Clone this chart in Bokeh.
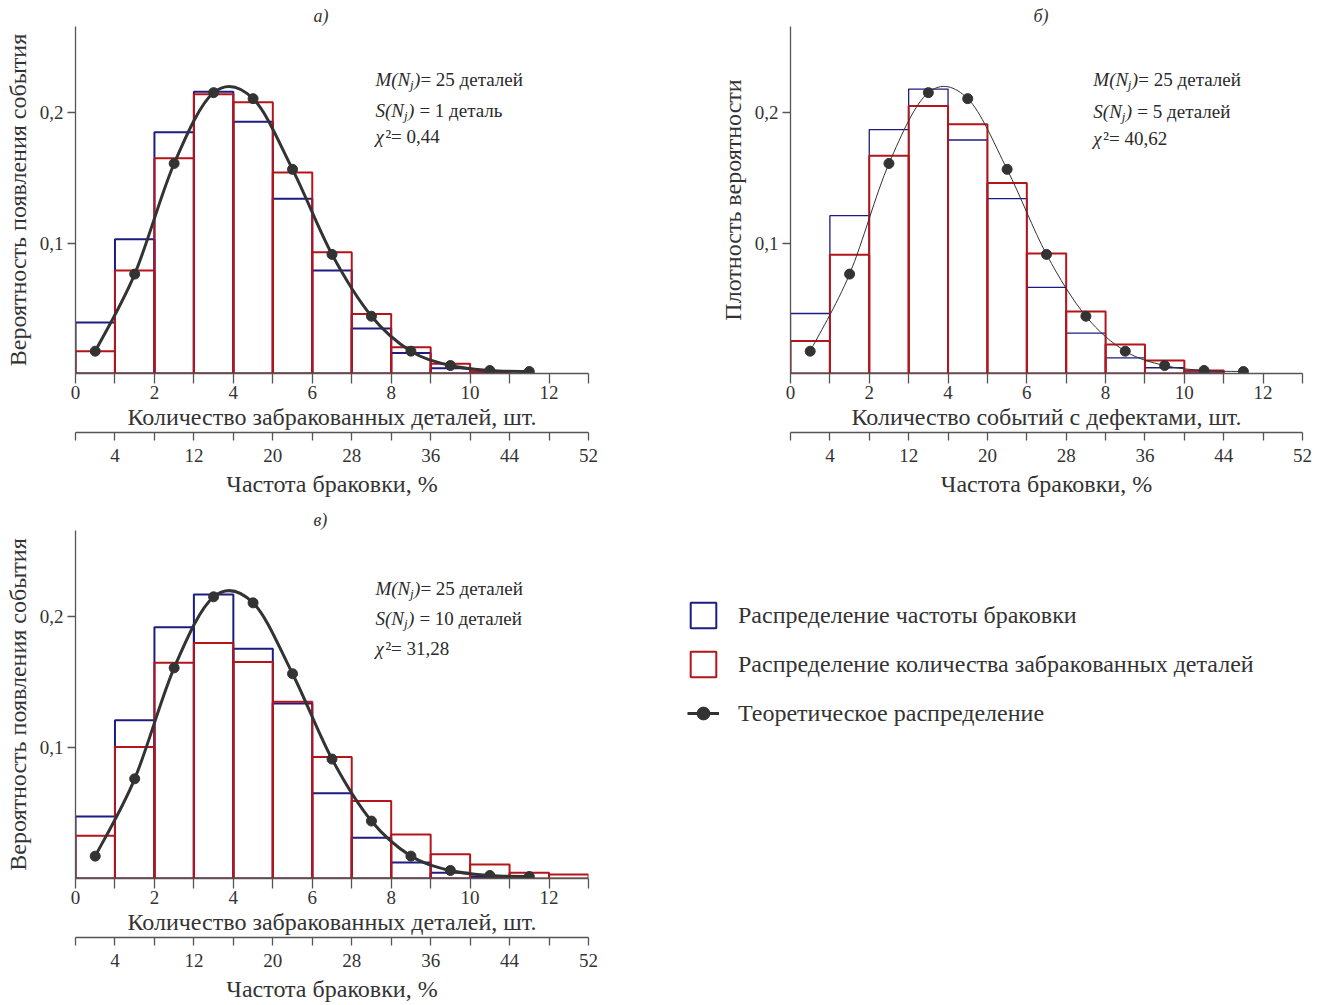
from bokeh.plotting import figure
from bokeh.models import (Range1d, LinearAxis, FixedTicker, CustomJSTickFormatter,
                          Legend, LegendItem, Spacer)
from bokeh.layouts import column, row
from bokeh.core.properties import value
from bokeh.embed import file_html
from bokeh.resources import INLINE

# ---------------- data ----------------
bin_edges = list(range(0, 14))
theory_x = [0.5, 1.5, 2.5, 3.5, 4.5, 5.5, 6.5, 7.5, 8.5, 9.5, 10.5, 11.5]
theory_y = [0.0171, 0.0762, 0.161, 0.2153, 0.2107, 0.1565, 0.0913, 0.0439, 0.0171, 0.0061, 0.0023, 0.0015]

freq_a = [0.039, 0.103, 0.185, 0.216, 0.193, 0.134, 0.079, 0.0345, 0.0158, 0.004, 0.001]
count_a = [0.017, 0.079, 0.165, 0.214, 0.208, 0.154, 0.093, 0.0457, 0.0202, 0.0074, 0.0018]

freq_b = [0.046, 0.121, 0.187, 0.218, 0.179, 0.134, 0.066, 0.031, 0.012, 0.0044, 0.0012]
count_b = [0.025, 0.091, 0.167, 0.205, 0.191, 0.146, 0.092, 0.0475, 0.0222, 0.0099, 0.0023]

freq_c = [0.0474, 0.121, 0.192, 0.217, 0.1756, 0.1338, 0.0651, 0.0312, 0.0123, 0.0044, 0.0015]
count_c = [0.0326, 0.1005, 0.165, 0.18, 0.1654, 0.1351, 0.0928, 0.0592, 0.0337, 0.0186, 0.0107, 0.0044, 0.0031]

x_ticks = list(range(0, 14))
pct_ticks = list(range(0, 53, 4))
y_ticks = [0.1, 0.2]

titles = ["а)", "б)", "в)"]
ylabels = ["Вероятность появления события", "Плотность вероятности", "Вероятность появления события"]
xlabels = ["Количество забракованных деталей, шт.", "Количество событий с дефектами, шт.",
           "Количество забракованных деталей, шт."]
pct_label = "Частота браковки, %"
s_values = ["1 деталь", "5 деталей", "10 деталей"]
chi_values = ["0,44", "40,62", "31,28"]
legend_labels = ["Распределение частоты браковки",
                 "Распределение количества забракованных деталей",
                 "Теоретическое распределение"]

# ---------------- style ----------------
FONT = "Liberation Serif"
BLUE = "#1c1c82"
RED = "#b3151b"
DARK = "#333333"
AXIS = "#555555"
TXT = "#2a2a2a"


def catmull_bezier(xs, ys):
    n = len(xs)
    out = dict(x0=[], y0=[], x1=[], y1=[], cx0=[], cy0=[], cx1=[], cy1=[])
    for i in range(n - 1):
        i0 = max(i - 1, 0)
        i3 = min(i + 2, n - 1)
        out["x0"].append(xs[i]); out["y0"].append(ys[i])
        out["x1"].append(xs[i + 1]); out["y1"].append(ys[i + 1])
        out["cx0"].append(xs[i] + (xs[i + 1] - xs[i0]) / 6.0)
        out["cy0"].append(ys[i] + (ys[i + 1] - ys[i0]) / 6.0)
        out["cx1"].append(xs[i + 1] - (xs[i3] - xs[i]) / 6.0)
        out["cy1"].append(ys[i + 1] - (ys[i3] - ys[i]) / 6.0)
    return out


def style_axis(ax, tick_out):
    ax.axis_line_color = AXIS
    ax.axis_line_width = 1.3
    ax.major_tick_line_color = AXIS
    ax.major_tick_line_width = 1.3
    ax.major_tick_out = tick_out
    ax.major_tick_in = 0
    ax.minor_tick_line_color = None
    ax.major_label_text_font = FONT
    ax.major_label_text_font_size = "19px"
    ax.major_label_text_color = DARK
    ax.axis_label_text_font = FONT
    ax.axis_label_text_font_size = "24px"
    ax.axis_label_text_font_style = "normal"
    ax.axis_label_text_color = DARK


def txt(p, x, y, s, dx=0, dy=0, size="19px", style="normal"):
    p.text(x=[x], y=[y], text=[s], x_offset=dx, y_offset=dy,
           text_font=value(FONT), text_font_size=size, text_font_style=style,
           text_color=TXT, text_baseline="alphabetic", text_align="left")


def make_panel(idx, freq, count, width, height, right_border, bottom_border,
               curve_w, blue_w, ann_x, ann_y, title_off):
    p = figure(width=width, height=height, output_backend="svg", toolbar_location=None,
               x_range=Range1d(0, 13), y_range=Range1d(0, 0.266),
               x_axis_type=None, y_axis_type=None,
               min_border_left=75, min_border_right=right_border,
               min_border_top=26, min_border_bottom=bottom_border)
    p.outline_line_color = None
    p.grid.visible = False
    p.background_fill_color = "white"
    p.border_fill_color = "white"
    p.title.text = titles[idx]
    p.title.align = "left"
    p.title.offset = title_off
    p.title.text_font = FONT
    p.title.text_font_style = "italic"
    p.title.text_font_size = "18px"
    p.title.text_color = DARK
    p.title.standoff = 2

    # primary x axis
    xa = LinearAxis(ticker=FixedTicker(ticks=x_ticks),
                    formatter=CustomJSTickFormatter(code="return (tick % 2 == 0) ? tick.toFixed(0) : '';"),
                    axis_label=xlabels[idx])
    style_axis(xa, 10)
    xa.major_label_standoff = 2
    xa.axis_label_standoff = 2
    p.add_layout(xa, "below")

    # secondary x axis (percent)
    p.extra_x_ranges = {"pct": Range1d(0, 52)}
    xb = LinearAxis(x_range_name="pct", ticker=FixedTicker(ticks=pct_ticks),
                    formatter=CustomJSTickFormatter(code="return (tick % 8 == 4) ? tick.toFixed(0) : '';"),
                    axis_label=pct_label)
    style_axis(xb, 8)
    xb.major_label_standoff = 8
    xb.axis_label_standoff = 6
    p.add_layout(xb, "below")

    # y axis
    ya = LinearAxis(ticker=FixedTicker(ticks=y_ticks),
                    formatter=CustomJSTickFormatter(code="return tick.toFixed(1).replace('.', ',');"),
                    axis_label=ylabels[idx])
    style_axis(ya, 8)
    ya.major_label_standoff = 4
    ya.axis_label_standoff = 6
    p.add_layout(ya, "left")

    nb = len(freq)
    p.quad(left=bin_edges[:nb], right=bin_edges[1:nb + 1], top=freq, bottom=0,
           fill_color=None, line_color=BLUE, line_width=blue_w)
    nr = len(count)
    p.quad(left=bin_edges[:nr], right=bin_edges[1:nr + 1], top=count, bottom=0,
           fill_color=None, line_color=RED, line_width=2)

    bz = catmull_bezier(theory_x, theory_y)
    p.bezier(x0=bz["x0"], y0=bz["y0"], x1=bz["x1"], y1=bz["y1"],
             cx0=bz["cx0"], cy0=bz["cy0"], cx1=bz["cx1"], cy1=bz["cy1"],
             line_color=DARK, line_width=curve_w)
    p.scatter(theory_x, theory_y, size=10, color=DARK)

    # annotation
    y1, y2, y3 = ann_y
    txt(p, ann_x, y1, "M(N", style="italic")
    txt(p, ann_x, y1, "j", dx=34.5, dy=5, size="13px", style="italic")
    txt(p, ann_x, y1, ")", dx=38.5, style="italic")
    txt(p, ann_x, y1, "= 25 деталей", dx=45)
    txt(p, ann_x, y2, "S(N", style="italic")
    txt(p, ann_x, y2, "j", dx=28.5, dy=5, size="13px", style="italic")
    txt(p, ann_x, y2, ")", dx=32.5, style="italic")
    txt(p, ann_x, y2, "= " + s_values[idx], dx=44)
    txt(p, ann_x, y3, "χ", style="italic")
    txt(p, ann_x, y3, "²= " + chi_values[idx], dx=10)
    return p


pa = make_panel(0, freq_a, count_a, 715, 504, 127, 131, 3, 2, 7.6,
                (0.2255, 0.2019, 0.1816), 238)
pb = make_panel(1, freq_b, count_b, 611, 504, 24, 131, 1, 1.3, 7.69,
                (0.2250, 0.2010, 0.1800), 243)
pc = make_panel(2, freq_c, count_c, 687, 501, 99, 127, 3, 2, 7.6,
                (0.2220, 0.1988, 0.1758), 238)

# legend figure (renderers hold the real data of panel в but lie outside its view)
pl = figure(width=639, height=400, output_backend="svg", toolbar_location=None,
            x_range=Range1d(-40, -30), y_range=Range1d(-40, -30),
            x_axis_type=None, y_axis_type=None,
            min_border_left=0, min_border_right=0, min_border_top=0, min_border_bottom=0)
pl.outline_line_color = None
pl.grid.visible = False
nb = len(freq_c)
nr = len(count_c)
r_blue = pl.quad(left=bin_edges[:nb], right=bin_edges[1:nb + 1], top=freq_c, bottom=0,
                 fill_color=None, line_color=BLUE, line_width=2)
r_red = pl.quad(left=bin_edges[:nr], right=bin_edges[1:nr + 1], top=count_c, bottom=0,
                fill_color=None, line_color=RED, line_width=2)
r_line = pl.line(theory_x, theory_y, line_color=DARK, line_width=3)
r_dot = pl.scatter(theory_x, theory_y, size=9, color=DARK)
legend = Legend(items=[LegendItem(label=legend_labels[0], renderers=[r_blue]),
                       LegendItem(label=legend_labels[1], renderers=[r_red]),
                       LegendItem(label=legend_labels[2], renderers=[r_line, r_dot])],
                location="top_left", orientation="vertical")
legend.glyph_width = 32
legend.glyph_height = 32
legend.spacing = 17
legend.padding = 0
legend.margin = 0
legend.label_standoff = 19
legend.label_text_font = FONT
legend.label_text_font_size = "24px"
legend.label_text_color = DARK
legend.border_line_color = None
legend.background_fill_alpha = 0
pl.add_layout(legend, "center")

legend_col = column(Spacer(width=639, height=95), pl)
layout = column(row(pa, pb), row(pc, legend_col))
open("out.html", "w").write(file_html(layout, INLINE))
